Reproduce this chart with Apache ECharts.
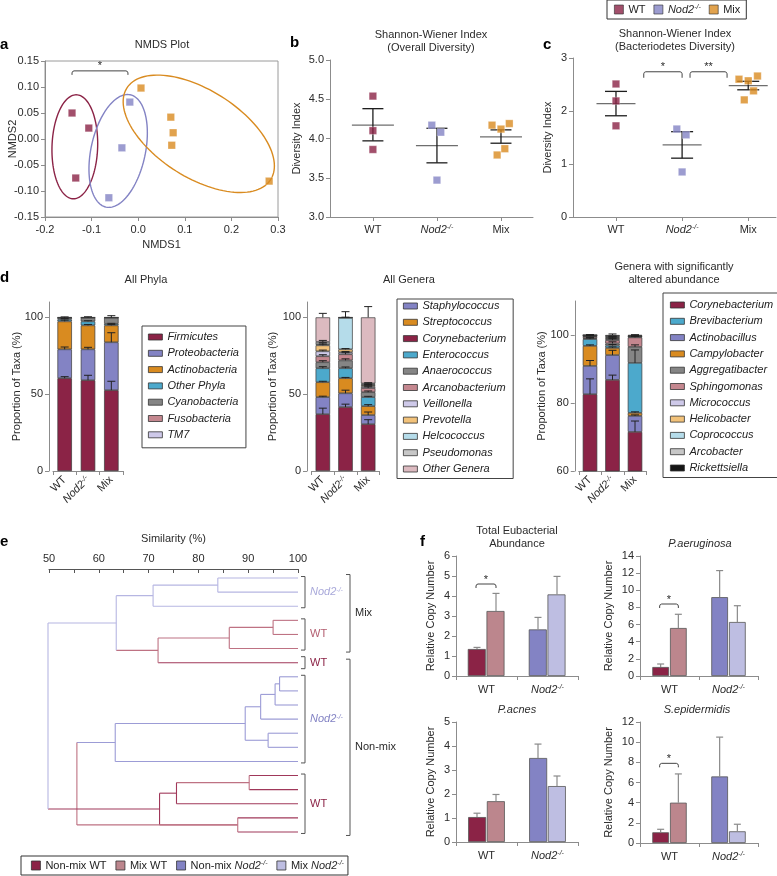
<!DOCTYPE html>
<html>
<head>
<meta charset="utf-8">
<script src="https://cdn.jsdelivr.net/npm/echarts@6.0.0/dist/echarts.min.js"></script>
<style>
html,body{margin:0;padding:0;background:#fff;}
#chart{width:777px;height:876px;}
</style>
</head>
<body>
<div id="chart"></div>
<script>
// ================= DATA =================
// Panel a - NMDS ordination
const nmdsWT   = [[-0.142, 0.050], [-0.106, 0.021], [-0.134, -0.075]];
const nmdsNod2 = [[-0.018, 0.071], [-0.035, -0.017], [-0.063, -0.113]];
const nmdsMix  = [[0.006, 0.098], [0.070, 0.042], [0.075, 0.012], [0.072, -0.012], [0.281, -0.081]];
// group ellipses: centre x, centre y, semi-axis 1 (dx, dy), semi-axis 2 (dx, dy)
const ellipseWT   = [-0.136, -0.015, 0.003, 0.100, 0.049, 0.000];
const ellipseNod2 = [-0.043, -0.023, 0.026, 0.108, 0.057, -0.011];
const ellipseMix  = [0.130, 0.010, 0.155, -0.087, -0.048, -0.072];
const nmdsSig = [[-0.142, -0.022, 0.131]];          // x from, x to, y
const nmdsSigLabels = ['*'];

// Panels b / c - Shannon-Wiener index
const groupLabels = ['WT', 'Nod2', 'Mix'];
const overallWT   = [[1, 4.54], [1, 4.10], [1, 3.86]];
const overallNod2 = [[1.92, 4.17], [2.06, 4.08], [2, 3.47]];
const overallMix  = [[2.86, 4.17], [3.0, 4.12], [3.13, 4.19], [2.94, 3.79], [3.06, 3.87]];
const overallStats = [[1, 4.17, 3.97, 4.38], [2, 3.91, 3.69, 4.13], [3, 4.02, 3.94, 4.11]]; // x, mean, -SEM, +SEM
const bactWT   = [[1, 2.51], [1, 2.19], [1, 1.72]];
const bactNod2 = [[1.92, 1.66], [2.06, 1.55], [2, 0.85]];
const bactMix  = [[2.86, 2.60], [3.0, 2.57], [3.14, 2.66], [2.94, 2.21], [3.08, 2.38]];
const bactStats = [[1, 2.14, 1.91, 2.37], [2, 1.36, 1.11, 1.61], [3, 2.48, 2.40, 2.56]];
const bactSig = [[1.42, 2.0, 2.74], [2.12, 2.68, 2.74]];
const bactSigLabels = ['*', '**'];

// Panel d - taxa proportions (stack order bottom -> top), per group WT, Nod2, Mix
const taxaGroups = ['WT', 'Nod2', 'Mix'];
const phylaNames = ['Firmicutes', 'Proteobacteria', 'Actinobacteria', 'Other Phyla', 'Cyanobacteria', 'Fusobacteria', 'TM7'];
const phylaVals = [[60.4, 59.1, 52.6], [18.8, 20.1, 31.2], [18.2, 15.6, 11.0], [1.3, 2.6, 1.0], [1.0, 2.4, 4.0], [0.2, 0.1, 0.1], [0.1, 0.1, 0.1]];
const phylaErr  = [[1.0, 3.2, 5.8], [1.5, 1.3, 6.2], [0.8, 0.6, 0.5], [0.5, 0.4, 0.3], [0.6, 0.6, 1.3], [0, 0, 0], [0, 0, 0]];

const generaStack = ['Corynebacterium', 'Staphylococcus', 'Streptococcus', 'Enterococcus', 'Anaerococcus', 'Arcanobacterium', 'Veillonella', 'Prevotella', 'Helcococcus', 'Pseudomonas', 'Other Genera'];
const generaLegend = ['Staphylococcus', 'Streptococcus', 'Corynebacterium', 'Enterococcus', 'Anaerococcus', 'Arcanobacterium', 'Veillonella', 'Prevotella', 'Helcococcus', 'Pseudomonas', 'Other Genera'];
const generaVals = [[37.0, 41.6, 30.5], [11.1, 9.0, 5.9], [9.7, 9.8, 5.8], [9.1, 6.5, 5.9], [3.9, 5.1, 3.2], [3.9, 4.0, 2.7], [3.2, 1.3, 1.0], [3.9, 1.9, 0.8], [0.7, 20.5, 0.5], [1.5, 0.2, 0.7], [16.0, 0.1, 43.0]];
const generaErr  = [[3.9, 1.9, 2.9], [0.6, 2.0, 2.0], [0.6, 0.5, 1.0], [1.0, 0.8, 0.5], [1.0, 1.0, 0.8], [1.0, 1.0, 0.8], [0.8, 0.5, 0.5], [0.8, 0.5, 0.5], [1.0, 4.0, 0.5], [1.0, 0.2, 0.5], [2.6, 0, 7.0]];

const sigStack = ['Corynebacterium', 'Actinobacillus', 'Campylobacter', 'Brevibacterium', 'Aggregatibacter', 'Sphingomonas', 'Micrococcus', 'Helicobacter', 'Coprococcus', 'Arcobacter', 'Rickettsiella'];
const sigLegend = ['Corynebacterium', 'Brevibacterium', 'Actinobacillus', 'Campylobacter', 'Aggregatibacter', 'Sphingomonas', 'Micrococcus', 'Helicobacter', 'Coprococcus', 'Arcobacter', 'Rickettsiella'];
const sigVals = [[82.6, 86.8, 71.5], [8.3, 7.3, 4.7], [5.9, 2.1, 0.9], [2.0, 0.7, 14.7], [0.3, 0.6, 4.7], [0.5, 1.0, 2.8], [0.1, 0.3, 0.2], [0.1, 0.3, 0.1], [0.1, 0.2, 0.1], [0.05, 0.2, 0.1], [0.05, 0.5, 0.2]];
const sigErr  = [[4.5, 1.4, 3.2], [1.6, 1.4, 0.3], [0.3, 0.3, 0.3], [0.3, 0.3, 3.8], [0.2, 0.5, 0.6], [0.2, 0.4, 0.3], [0.1, 0.3, 0.1], [0.1, 0.3, 0.1], [0.1, 0.2, 0.1], [0.1, 0.2, 0.1], [0.1, 0.3, 0.1]];

// Panel e - dendrogram (leaves 0..18 top to bottom)
const leafGroup = ['mN', 'mN', 'mN', 'mW', 'mW', 'mW', 'nW', 'nN', 'nN', 'nN', 'nN', 'nN', 'nN', 'nN', 'nW', 'nW', 'nW', 'nW', 'nW'];
// merges: similarity (%), child A, child B (leaf index or 'n'+merge index), group
const merges = [
  [83.9, 0, 1, 'mN'], [70.9, 'n0', 2, 'mN'], [95.0, 3, 4, 'mW'], [86.2, 'n2', 5, 'mW'], [71.9, 'n3', 6, 'mW'],
  [63.5, 'n1', 'n4', 'mN'], [96.3, 7, 8, 'nN'], [95.4, 'n6', 9, 'nN'], [92.5, 'n7', 10, 'nN'], [94.0, 11, 12, 'nN'],
  [89.4, 'n8', 'n9', 'nN'], [63.3, 'n10', 13, 'nN'], [90.2, 14, 15, 'mW'], [75.6, 'n12', 16, 'nW'], [87.9, 17, 18, 'mW'],
  [72.2, 'n13', 'n14', 'nW'], [55.6, 'n11', 'n14', 'mW'], [49.8, 'n5', 'n15', 'mN']
];
const dendroBrackets = [[0, 2, 1], [3, 5, 1], [6, 6, 1], [7, 13, 1], [14, 18, 1], [0, 5, 2], [6, 18, 2]];
const dendroBracketLabels = ['Nod2', 'WT', 'WT', 'Nod2', 'WT', 'Mix', 'Non-mix'];
const dendroBracketGroups = ['mN', 'mW', 'nW', 'nN', 'nW', '', ''];

// Panel f - qPCR relative copy number (WT, Nod2)
const qpcrGroups = ['WT', 'Nod2'];
const eubNonMix = [1.35, 2.33], eubNonMixErr = [0.08, 0.60];
const eubMix    = [3.25, 4.08], eubMixErr    = [0.88, 0.90];
const paeNonMix = [1.05, 9.2],  paeNonMixErr = [0.35, 3.1];
const paeMix    = [5.6, 6.3],   paeMixErr    = [1.6, 1.9];
const pacNonMix = [1.04, 3.5],  pacNonMixErr = [0.16, 0.58];
const pacMix    = [1.7, 2.33],  pacMixErr    = [0.28, 0.42];
const sepNonMix = [1.06, 6.6],  sepNonMixErr = [0.30, 3.9];
const sepMix    = [4.0, 1.16],  sepMixErr    = [2.85, 0.70];
const eubSig = [[0, 4.6]], paeSig = [[0, 8.4]], sepSig = [[0, 7.9]];

// ================= STYLE =================
const FONT = "'Liberation Sans', Arial, Helvetica, sans-serif";
const TXT = '#2b2b2b';
const AX = '#8c8c8c';
const COL = {
  wt: '#8B2346', nod: '#8383C4', mix: '#D98B20', blue: '#4CA9CC', gray: '#858585', pink: '#C4878F',
  lav: '#CEC9E9', lorange: '#F2C27A', lblue: '#B5DCEA', lgray: '#C7C7C7', ppink: '#DCBAC0', black: '#151515',
  mixWT: '#BC868D', mixNod: '#BEBEE2'
};
const DCOL = {mN: '#B6B6E2', mW: '#BE7283', nW: '#A0385A', nN: '#9C9CD6'};
const DLAB = {mN: '#A9A9DA', mW: '#B35E70', nW: '#8B2346', nN: '#8383C4'};
const phylaColors = [COL.wt, COL.nod, COL.mix, COL.blue, COL.gray, COL.pink, COL.lav];
const generaColors = [COL.wt, COL.nod, COL.mix, COL.blue, COL.gray, COL.pink, COL.lav, COL.lorange, COL.lblue, COL.lgray, COL.ppink];
const sigColors = [COL.wt, COL.nod, COL.mix, COL.blue, COL.gray, COL.pink, COL.lav, COL.lorange, COL.lblue, COL.lgray, COL.black];

const rich = {
  i: {fontStyle: 'italic', fontFamily: FONT, fontSize: 11, color: TXT},
  s: {fontStyle: 'italic', fontFamily: FONT, fontSize: 7, color: TXT, verticalAlign: 'top'}
};
function fmtName(n) {
  if (n === 'Nod2') return '{i|Nod2}{s|-/-}';
  if (n === 'Non-mix Nod2') return 'Non-mix {i|Nod2}{s|-/-}';
  if (n === 'Mix Nod2') return 'Mix {i|Nod2}{s|-/-}';
  return n;
}
function merge(a, b) {
  const r = Object.assign({}, a);
  for (const k in b) {
    const v = b[k];
    if (v && typeof v === 'object' && !Array.isArray(v) && r[k] && typeof r[k] === 'object' && !Array.isArray(r[k])) r[k] = merge(r[k], v);
    else r[k] = v;
  }
  return r;
}
const baseAxis = {
  splitLine: {show: false},
  axisLine: {show: true, onZero: false, lineStyle: {color: AX, width: 1}},
  axisTick: {show: true, length: 4, lineStyle: {color: AX}},
  axisLabel: {color: TXT, fontFamily: FONT, fontSize: 11, margin: 6, rich: rich},
  nameTextStyle: {color: TXT, fontFamily: FONT, fontSize: 11},
  nameMoveOverlap: false
};
const ax = (o) => merge(baseAxis, o);
function line(x1, y1, x2, y2, c, w) { return {type: 'line', shape: {x1, y1, x2, y2}, style: {stroke: c, lineWidth: w || 1}}; }
function bracket(x1, x2, y, h, label) {
  const pts = [[x1, y + h], [x1, y + 2], [x1 + 0.6, y + 0.6], [x1 + 2, y], [x2 - 2, y], [x2 - 0.6, y + 0.6], [x2, y + 2], [x2, y + h]];
  return {type: 'group', children: [
    {type: 'polyline', shape: {points: pts}, style: {fill: null, stroke: '#444', lineWidth: 1}},
    {type: 'text', style: {x: (x1 + x2) / 2, y: y + 1, text: label, fill: TXT, fontSize: 11, fontFamily: FONT,
      align: 'center', verticalAlign: 'bottom', textAlign: 'center', textVerticalAlign: 'bottom'}}
  ]};
}

// ================= RENDERERS =================
const ellipseColors = [COL.wt, COL.nod, COL.mix];
function renderEllipse(params, api) {
  const cx = api.value(0), cy = api.value(1), a1 = api.value(2), a2 = api.value(3), b1 = api.value(4), b2 = api.value(5);
  const pts = [];
  for (let k = 0; k <= 120; k++) {
    const t = k / 120 * Math.PI * 2;
    pts.push(api.coord([cx + a1 * Math.cos(t) + b1 * Math.sin(t), cy + a2 * Math.cos(t) + b2 * Math.sin(t)]));
  }
  return {type: 'polyline', shape: {points: pts}, style: {fill: null, stroke: ellipseColors[params.dataIndex], lineWidth: 1.4}};
}
function makeStats(half, cap) {
  return function (params, api) {
    const x = api.value(0);
    const pm = api.coord([x, api.value(1)]), pl = api.coord([x, api.value(2)]), ph = api.coord([x, api.value(3)]);
    return {type: 'group', children: [
      line(pm[0] - half, pm[1], pm[0] + half, pm[1], '#6e6e6e', 1.3),
      line(pl[0], pl[1], ph[0], ph[1], '#1e1e1e', 1.3),
      line(ph[0] - cap, ph[1], ph[0] + cap, ph[1], '#1e1e1e', 1.3),
      line(pl[0] - cap, pl[1], pl[0] + cap, pl[1], '#1e1e1e', 1.3)
    ]};
  };
}
function makeSigVal(labels, h) {
  return function (params, api) {
    const p1 = api.coord([api.value(0), api.value(2)]), p2 = api.coord([api.value(1), api.value(2)]);
    return bracket(p1[0], p2[0], p1[1], h, labels[params.dataIndex]);
  };
}
function renderStackErr(params, api) {
  const b = api.coord([api.value(0), api.value(1)]), e = api.coord([api.value(0), api.value(2)]);
  return {type: 'group', children: [line(b[0], b[1], e[0], e[1], '#222', 1), line(e[0] - 4, e[1], e[0] + 4, e[1], '#222', 1)]};
}
function makeQErr(off) {
  return function (params, api) {
    const cat = api.value(0), s = api.value(3);
    const b = api.coord([cat, api.value(1)]), e = api.coord([cat, api.value(2)]);
    const x = b[0] + s * off;
    return {type: 'group', children: [line(x, b[1], x, e[1], '#8a8a8a', 1.2), line(x - 3.5, e[1], x + 3.5, e[1], '#8a8a8a', 1.2)]};
  };
}
function makeQSig(off) {
  return function (params, api) {
    const p = api.coord([api.value(0), api.value(1)]);
    return bracket(p[0] - off - 1, p[0] + off, p[1], 4, '*');
  };
}

// stacked tops and error data
function stackErrData(vals, errs) {
  const acc = vals[0].map(() => 0), out = [];
  vals.forEach((row, s) => row.forEach((v, i) => {
    acc[i] += v;
    if (errs[s][i] > 0) out.push([i, acc[i], acc[i] + errs[s][i]]);
  }));
  return out;
}
function qErrData(nm, nmE, mx, mxE) {
  const out = [];
  nm.forEach((v, i) => out.push([i, v, v + nmE[i], -1]));
  mx.forEach((v, i) => out.push([i, v, v + mxE[i], 1]));
  return out;
}

// dendrogram links
const nodeX = [], nodeY = [], dLinks = [];
function childInfo(c) {
  if (typeof c === 'number') return [100, c, leafGroup[c]];
  const k = +c.slice(1);
  return [nodeX[k], nodeY[k], merges[k][3]];
}
merges.forEach((m, k) => {
  const a = childInfo(m[1]), b = childInfo(m[2]);
  nodeX[k] = m[0]; nodeY[k] = (a[1] + b[1]) / 2;
  dLinks.push({v: [m[0], a[1], b[1], a[0], b[0]], g: m[3], ga: a[2], gb: b[2]});
});
function renderDendro(params, api) {
  const L = dLinks[params.dataIndex];
  const x = api.value(0), ya = api.value(1), yb = api.value(2), xa = api.value(3), xb = api.value(4);
  const p0 = api.coord([x, ya]), p1 = api.coord([x, yb]), pa = api.coord([xa, ya]), pb = api.coord([xb, yb]);
  return {type: 'group', children: [
    line(p0[0], p0[1], pa[0], pa[1], DCOL[L.ga], 1.1),
    line(p1[0], p1[1], pb[0], pb[1], DCOL[L.gb], 1.1),
    line(p0[0], p0[1], p1[0], p1[1], DCOL[L.g], 1.1)
  ]};
}
function renderDendroBracket(params, api) {
  const s = api.value(0), e = api.value(1), lvl = api.value(2);
  const pT = api.coord([100, s]), pB = api.coord([100, e]);
  const pad = lvl === 2 ? 3.5 : (s === e ? 6 : 1.5);
  const y1 = pT[1] - pad, y2 = pB[1] + pad;
  const xv = pT[0] + (lvl === 2 ? 52 : 7), arm = 4;
  const g = dendroBracketGroups[params.dataIndex];
  const col = g ? DLAB[g] : TXT;
  const lab = dendroBracketLabels[params.dataIndex];
  return {type: 'group', children: [
    {type: 'polyline', shape: {points: [[xv - arm, y1], [xv, y1], [xv, y2], [xv - arm, y2]]}, style: {fill: null, stroke: '#555', lineWidth: 1}},
    {type: 'text', style: {x: xv + 5, y: (y1 + y2) / 2, text: lab === 'Nod2' ? '{i|Nod2}{s|-/-}' : lab, fill: col,
      fontSize: 11, fontFamily: FONT, align: 'left', verticalAlign: 'middle', textAlign: 'left', textVerticalAlign: 'middle',
      rich: {i: {fontStyle: 'italic', fontSize: 11, fontFamily: FONT, fill: col, color: col},
             s: {fontStyle: 'italic', fontSize: 7, fontFamily: FONT, fill: col, color: col, verticalAlign: 'top'}}}}
  ]};
}

// ================= OPTION =================
const grid = [
  {left: 45, top: 61, width: 233, height: 156, show: true, borderColor: '#9a9a9a', borderWidth: 1},   // a
  {left: 330, top: 60, width: 203, height: 157},        // b
  {left: 573, top: 58, width: 203, height: 159},        // c
  {left: 53, top: 302, width: 70, height: 169},         // d1
  {left: 311.5, top: 302, width: 68, height: 169},      // d2
  {left: 578.75, top: 301, width: 67.5, height: 170},   // d3
  {left: 49, top: 569, width: 249, height: 272},        // e
  {left: 456, top: 556, width: 122, height: 120},       // f1
  {left: 640, top: 556, width: 118, height: 120},       // f2
  {left: 456, top: 722, width: 122, height: 120},       // f3
  {left: 640, top: 722, width: 118, height: 121}        // f4
].map(g => Object.assign({outerBoundsMode: 'none', containLabel: false}, g));

const groupFmt = v => fmtName(groupLabels[Math.round(v) - 1] || '');
const xAxis = [
  ax({gridIndex: 0, type: 'value', min: -0.2, max: 0.3, interval: 0.1, axisLabel: {formatter: v => v.toFixed(1), margin: 7},
      name: 'NMDS1', nameLocation: 'middle', nameGap: 22}),
  ax({gridIndex: 1, type: 'value', min: 0.33, max: 3.5, axisLabel: {customValues: [1, 2, 3], formatter: groupFmt, margin: 7}, axisTick: {customValues: [1, 2, 3]}}),
  ax({gridIndex: 2, type: 'value', min: 0.35, max: 3.42, axisLabel: {customValues: [1, 2, 3], formatter: groupFmt, margin: 7}, axisTick: {customValues: [1, 2, 3]}}),
  ax({gridIndex: 3, type: 'category', data: taxaGroups, axisLabel: {rotate: 45, interval: 0, formatter: fmtName, margin: 7}}),
  ax({gridIndex: 4, type: 'category', data: taxaGroups, axisLabel: {rotate: 45, interval: 0, formatter: fmtName, margin: 7}}),
  ax({gridIndex: 5, type: 'category', data: taxaGroups, axisLabel: {rotate: 45, interval: 0, formatter: fmtName, margin: 7}}),
  ax({gridIndex: 6, type: 'value', position: 'top', min: 50, max: 100, interval: 10,
      axisLine: {lineStyle: {color: '#555'}}, axisTick: {inside: true, length: 4, lineStyle: {color: '#555'}},
      minorTick: {show: true, splitNumber: 2, length: 4, lineStyle: {color: '#555'}},
      axisLabel: {margin: 5}, name: 'Similarity (%)', nameLocation: 'middle', nameGap: 25}),
  ax({gridIndex: 7, type: 'category', data: qpcrGroups, axisLabel: {interval: 0, formatter: fmtName, margin: 8}, axisTick: {interval: 0}}),
  ax({gridIndex: 8, type: 'category', data: qpcrGroups, axisLabel: {interval: 0, formatter: fmtName, margin: 8}, axisTick: {interval: 0}}),
  ax({gridIndex: 9, type: 'category', data: qpcrGroups, axisLabel: {interval: 0, formatter: fmtName, margin: 8}, axisTick: {interval: 0}}),
  ax({gridIndex: 10, type: 'category', data: qpcrGroups, axisLabel: {interval: 0, formatter: fmtName, margin: 8}, axisTick: {interval: 0}})
];
const yName = (name, gap) => ({name, nameLocation: 'middle', nameGap: gap});
const yAxis = [
  ax(Object.assign({gridIndex: 0, type: 'value', min: -0.15, max: 0.15, interval: 0.05, axisLabel: {formatter: v => v.toFixed(2)}}, yName('NMDS2', 27))),
  ax(Object.assign({gridIndex: 1, type: 'value', min: 3, max: 5, interval: 0.5, axisLabel: {formatter: v => v.toFixed(1)}}, yName('Diversity Index', 28))),
  ax(Object.assign({gridIndex: 2, type: 'value', min: 0, max: 3, interval: 1}, yName('Diversity Index', 20))),
  ax(Object.assign({gridIndex: 3, type: 'value', min: 0, max: 110, offset: 4, axisLabel: {customValues: [0, 50, 100]}, axisTick: {customValues: [0, 50, 100]}}, yName('Proportion of Taxa (%)', 27))),
  ax(Object.assign({gridIndex: 4, type: 'value', min: 0, max: 110, offset: 4.5, axisLabel: {customValues: [0, 50, 100]}, axisTick: {customValues: [0, 50, 100]}}, yName('Proportion of Taxa (%)', 29))),
  ax(Object.assign({gridIndex: 5, type: 'value', min: 60, max: 110, offset: 4, axisLabel: {customValues: [60, 80, 100]}, axisTick: {customValues: [60, 80, 100]}}, yName('Proportion of Taxa (%)', 27))),
  {gridIndex: 6, type: 'value', show: false, inverse: true, min: -0.64, max: 18.64},
  ax(Object.assign({gridIndex: 7, type: 'value', min: 0, max: 6, interval: 1}, yName('Relative Copy Number', 20))),
  ax(Object.assign({gridIndex: 8, type: 'value', min: 0, max: 14, interval: 2}, yName('Relative Copy Number', 26))),
  ax(Object.assign({gridIndex: 9, type: 'value', min: 0, max: 5, interval: 1}, yName('Relative Copy Number', 20))),
  ax(Object.assign({gridIndex: 10, type: 'value', min: 0, max: 12, interval: 2}, yName('Relative Copy Number', 26)))
];

const series = [];
const scat = (gi, name, data, color) => ({type: 'scatter', name, xAxisIndex: gi, yAxisIndex: gi, data, symbol: 'rect', symbolSize: 7.5, z: 4,
  itemStyle: {color, borderColor: 'rgba(255,255,255,0.6)', borderWidth: 0.6}});
// a
series.push({type: 'custom', xAxisIndex: 0, yAxisIndex: 0, data: [ellipseWT, ellipseNod2, ellipseMix], renderItem: renderEllipse, encode: {x: 0, y: 1}, z: 2, silent: true});
series.push(scat(0, 'WT', nmdsWT, COL.wt), scat(0, 'Nod2', nmdsNod2, COL.nod), scat(0, 'Mix', nmdsMix, COL.mix));
series.push({type: 'custom', xAxisIndex: 0, yAxisIndex: 0, data: nmdsSig, renderItem: makeSigVal(nmdsSigLabels, 4), encode: {x: [0, 1], y: 2}, silent: true});
// b
series.push(scat(1, 'WT', overallWT, COL.wt), scat(1, 'Nod2', overallNod2, COL.nod), scat(1, 'Mix', overallMix, COL.mix));
series.push({type: 'custom', xAxisIndex: 1, yAxisIndex: 1, data: overallStats, renderItem: makeStats(21, 10.5), encode: {x: 0, y: [1, 2, 3]}, z: 3, silent: true});
// c
series.push(scat(2, 'WT', bactWT, COL.wt), scat(2, 'Nod2', bactNod2, COL.nod), scat(2, 'Mix', bactMix, COL.mix));
series.push({type: 'custom', xAxisIndex: 2, yAxisIndex: 2, data: bactStats, renderItem: makeStats(19.5, 11), encode: {x: 0, y: [1, 2, 3]}, z: 3, silent: true});
series.push({type: 'custom', xAxisIndex: 2, yAxisIndex: 2, data: bactSig, renderItem: makeSigVal(bactSigLabels, 6), encode: {x: [0, 1], y: 2}, silent: true});
// d
function stackBars(gi, names, vals, colors, stack) {
  names.forEach((name, s) => series.push({type: 'bar', name, stack, xAxisIndex: gi, yAxisIndex: gi, data: vals[s], barWidth: 14.5,
    itemStyle: {color: colors[s], borderColor: '#3a3a3a', borderWidth: 0.7}, silent: true}));
}
stackBars(3, phylaNames, phylaVals, phylaColors, 'phyla');
series.push({type: 'custom', xAxisIndex: 3, yAxisIndex: 3, data: stackErrData(phylaVals, phylaErr), renderItem: renderStackErr, z: 5, silent: true});
stackBars(4, generaStack, generaVals, generaColors, 'genera');
series.push({type: 'custom', xAxisIndex: 4, yAxisIndex: 4, data: stackErrData(generaVals, generaErr), renderItem: renderStackErr, z: 5, silent: true});
stackBars(5, sigStack, sigVals, sigColors, 'sig');
series.push({type: 'custom', xAxisIndex: 5, yAxisIndex: 5, data: stackErrData(sigVals, sigErr), renderItem: renderStackErr, z: 5, silent: true});
// e
series.push({type: 'custom', xAxisIndex: 6, yAxisIndex: 6, data: dLinks.map(l => l.v), renderItem: renderDendro, encode: {x: [0, 3, 4], y: [1, 2]}, clip: false, silent: true});
series.push({type: 'custom', xAxisIndex: 6, yAxisIndex: 6, data: dendroBrackets, renderItem: renderDendroBracket, encode: {x: 2, y: [0, 1]}, clip: false, silent: true});
// f
function qBars(gi, nm, nmE, mx, mxE, bw, gap, sig) {
  const st = (c) => ({color: c, borderColor: '#555', borderWidth: 0.8});
  series.push({type: 'bar', name: 'Non-mix WT', xAxisIndex: gi, yAxisIndex: gi, barWidth: bw, barGap: gap,
    data: nm.map((v, i) => ({value: v, itemStyle: st(i ? COL.nod : COL.wt)})), itemStyle: st(COL.wt), silent: true});
  series.push({type: 'bar', name: 'Mix WT', xAxisIndex: gi, yAxisIndex: gi, barWidth: bw, barGap: gap,
    data: mx.map((v, i) => ({value: v, itemStyle: st(i ? COL.mixNod : COL.mixWT)})), itemStyle: st(COL.mixWT), silent: true});
  const off = bw / 2 + 0.5;
  series.push({type: 'custom', xAxisIndex: gi, yAxisIndex: gi, data: qErrData(nm, nmE, mx, mxE), renderItem: makeQErr(off), z: 5, silent: true});
  if (sig) series.push({type: 'custom', xAxisIndex: gi, yAxisIndex: gi, data: sig, renderItem: makeQSig(off), z: 5, silent: true});
}
qBars(7, eubNonMix, eubNonMixErr, eubMix, eubMixErr, 18, '4%', eubSig);
qBars(8, paeNonMix, paeNonMixErr, paeMix, paeMixErr, 16.7, '6%', paeSig);
qBars(9, pacNonMix, pacNonMixErr, pacMix, pacMixErr, 18, '4%', null);
qBars(10, sepNonMix, sepNonMixErr, sepMix, sepMixErr, 16.7, '6%', sepSig);
// legend swatch sources for panel e legend
series.push({type: 'bar', name: 'Non-mix Nod2', xAxisIndex: 7, yAxisIndex: 7, data: [], itemStyle: {color: COL.nod}});
series.push({type: 'bar', name: 'Mix Nod2', xAxisIndex: 7, yAxisIndex: 7, data: [], itemStyle: {color: COL.mixNod}});

const legText = {fontFamily: FONT, fontSize: 11, color: '#222', rich: rich};
const vLegend = (data, left, top, pad) => ({data, left, top, orient: 'vertical', itemWidth: 14, itemHeight: 6, itemGap: 5.3, padding: pad,
  borderColor: '#444', borderWidth: 1, icon: 'rect', itemStyle: {borderColor: '#333', borderWidth: 0.8}, selectedMode: false,
  textStyle: Object.assign({}, legText, {fontStyle: 'italic'})});
const legend = [
  {data: ['WT', 'Nod2', 'Mix'], left: 607, top: 0, orient: 'horizontal', itemWidth: 9, itemHeight: 9, itemGap: 8, padding: [4, 6, 4, 7],
   borderColor: '#333', borderWidth: 1, icon: 'rect', itemStyle: {borderColor: '#333', borderWidth: 0.8}, selectedMode: false,
   textStyle: legText, formatter: fmtName},
  vLegend(phylaNames, 142, 326, [5.5, 7, 7.5, 6]),
  vLegend(generaLegend, 397, 299, [1.5, 7, 4, 6]),
  vLegend(sigLegend, 663, 293, [6.5, 7, 4, 7]),
  {data: ['Non-mix WT', 'Mix WT', 'Non-mix Nod2', 'Mix Nod2'], left: 21, top: 856, orient: 'horizontal', itemWidth: 9, itemHeight: 9, itemGap: 9,
   padding: [4, 4, 4, 10], borderColor: '#333', borderWidth: 1, icon: 'rect', itemStyle: {borderColor: '#333', borderWidth: 0.8},
   selectedMode: false, textStyle: legText, formatter: fmtName}
];

const txt = (text, x, y, extra) => ({type: 'text', x, y, silent: true, style: Object.assign({text, fill: TXT, fontFamily: FONT, fontSize: 11,
  align: 'center', verticalAlign: 'middle', textAlign: 'center', textVerticalAlign: 'middle', lineHeight: 13}, extra || {})});
const bold = {fontWeight: 'bold', fontSize: 15, fill: '#000', align: 'left', textAlign: 'left'};
const graphic = [
  txt('a', 0, 45, bold), txt('NMDS Plot', 162, 45),
  txt('b', 290, 43, bold), txt('Shannon-Wiener Index\n(Overall Diversity)', 431, 41.5),
  txt('c', 543, 45, bold), txt('Shannon-Wiener Index\n(Bacteriodetes Diversity)', 675, 40.5),
  txt('d', 0, 278, bold), txt('All Phyla', 146, 280), txt('All Genera', 409, 280),
  txt('Genera with significantly\naltered abundance', 674, 273.5),
  txt('e', 0, 542, bold), txt('f', 420, 542, bold),
  txt('Total Eubacterial\nAbundance', 517, 537),
  txt('P.aeruginosa', 700, 544, {fontStyle: 'italic'}),
  txt('P.acnes', 517, 710, {fontStyle: 'italic'}),
  txt('S.epidermidis', 697, 710, {fontStyle: 'italic'})
];

const chart = echarts.init(document.getElementById('chart'), null, {renderer: 'canvas', width: 777, height: 876});
chart.setOption({animation: false, backgroundColor: '#fff', textStyle: {fontFamily: FONT}, grid, xAxis, yAxis, series, legend, graphic});
</script>
</body>
</html>
